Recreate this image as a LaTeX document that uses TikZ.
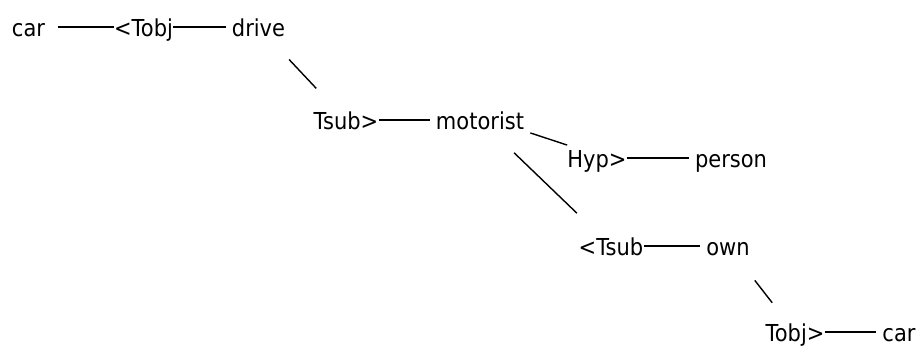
\documentclass[tikz,border=0pt]{standalone}
\usepackage{fontspec}
\setmainfont[FakeStretch=0.9]{DejaVu Sans}
\usetikzlibrary{calc}
\begin{document}
\begin{tikzpicture}
    [
      x = 0.75pt, y = -0.75pt,
      every node/.style = {anchor=base, font=\fontsize{17.5}{21}\selectfont,
                           text height=15pt, text depth=0pt, inner ysep=2pt},
      concept/.style = {inner xsep=4.5pt},
      rel/.style = {inner xsep=0pt},
      link/.style = {line width=1.05pt},
    ]

    \useasboundingbox (0,0) rectangle (918,352);

    \node[concept] (car1) at (28.5,37) {car};
    \node[rel] (tobj1) at (143.5,37) {<Tobj};
    \node[concept] (drive) at (258.5,37) {drive};

    \node[rel] (tsub1) at (346,130) {Tsub>};
    \node[concept] (motorist) at (480,130) {motorist};

    \node[rel] (hyp) at (597,168) {Hyp>};
    \node[concept] (person) at (731,168) {person};

    \node[rel] (tsub2) at (611,256) {<Tsub};
    \node[concept] (own) at (728,256) {own};

    \node[rel] (tobj2) at (795,342) {Tobj>};
    \node[concept] (car2) at (899,342) {car};

    \draw[link, shorten <=5pt] (car1) -- (tobj1);
    \draw[link] (tobj1) -- (drive);
    \draw[link] ($(drive)!0.35!(tsub1)$) -- ($(drive)!0.66!(tsub1)$);
    \draw[link] (tsub1) -- (motorist);
    \draw[link] (motorist.south east) -- (hyp.north west);
    \draw[link] (hyp) -- (person);
    \draw[link] ($(motorist)!0.26!(tsub2)$) -- ($(motorist)!0.74!(tsub2)$);
    \draw[link] (tsub2) -- (own);
    \draw[link] ($(own)!0.4!(tobj2)$) -- ($(own)!0.66!(tobj2)$);
    \draw[link] (tobj2) -- (car2);

\end{tikzpicture}
\end{document}
